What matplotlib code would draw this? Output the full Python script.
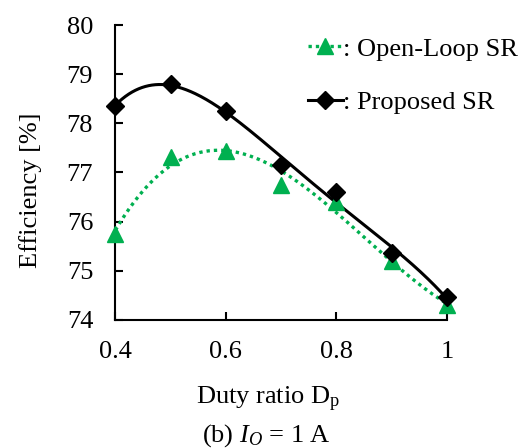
import numpy as np
import matplotlib
matplotlib.use("Agg")
import matplotlib.pyplot as plt
from matplotlib.lines import Line2D

plt.rcParams["font.family"] = ["Liberation Serif", "DejaVu Serif"]
plt.rcParams["mathtext.fontset"] = "custom"
plt.rcParams["mathtext.rm"] = "Liberation Serif"
plt.rcParams["mathtext.it"] = "Liberation Serif:italic"

# Duty ratio and measured efficiency [%]
duty = [0.4, 0.5, 0.6, 0.7, 0.8, 0.9, 1.0]
eff_open_loop = [75.75, 77.32, 77.44, 76.74, 76.40, 75.19, 74.30]
eff_proposed = [78.36, 78.80, 78.25, 77.16, 76.60, 75.36, 74.46]

x_ticks = [0.4, 0.6, 0.8, 1.0]
x_tick_labels = ["0.4", "0.6", "0.8", "1"]
y_ticks = [74, 75, 76, 77, 78, 79, 80]

GREEN = "#00B050"
FS = 19

fig = plt.figure(figsize=(5.27, 4.48), dpi=100)
ax = fig.add_axes([0.219, 0.286, 0.629, 0.658])

# polynomial trend lines through each series
xs = np.linspace(0.4, 1.0, 300)
p_open = np.polyfit(duty, eff_open_loop, 3)
p_prop = np.polyfit(duty, eff_proposed, 4)
ax.plot(xs, np.polyval(p_open, xs), color=GREEN, lw=2.4,
        linestyle=(0, (1, 1.2)), clip_on=False, zorder=2)
ax.plot(xs, np.polyval(p_prop, xs), color="black", lw=2.2,
        clip_on=False, zorder=2)

ax.plot(duty, eff_open_loop, linestyle="none", marker="^", ms=12,
        color=GREEN, mec=GREEN, clip_on=False, zorder=3)
ax.plot(duty, eff_proposed, linestyle="none", marker="D", ms=9.5,
        color="black", mec="black", clip_on=False, zorder=4)

ax.set_xlim(0.4, 1.0)
ax.set_ylim(74, 80)
ax.set_xticks(x_ticks)
ax.set_xticklabels(x_tick_labels)
ax.set_yticks(y_ticks)
for s in ("top", "right"):
    ax.spines[s].set_visible(False)
for s in ("left", "bottom"):
    ax.spines[s].set_linewidth(1.5)
ax.tick_params(direction="in", length=6, width=1.5, labelsize=FS)
ax.tick_params(axis="y", pad=16)
ax.tick_params(axis="x", pad=15)

ax.set_ylabel("Efficiency [%]", fontsize=FS)
ax.set_xlabel(r"Duty ratio D$_{\mathrm{p}}$", fontsize=FS)
ax.yaxis.set_label_coords(-0.22, 0.44)
ax.xaxis.set_label_coords(0.461, -0.222)
fig.text(0.505, 0.028, r"(b) $I_O$ = 1 A", fontsize=FS, ha="center", va="center")

handles = [
    Line2D([], [], color=GREEN, lw=2.4, linestyle=(0, (1, 1.2)),
           marker="^", ms=12, mec=GREEN),
    Line2D([], [], color="black", lw=2.2, marker="D", ms=9.5),
]
ax.legend(handles, [": Open-Loop SR", ": Proposed SR"], loc="upper left",
          bbox_to_anchor=(0.55, 0.995), frameon=False, fontsize=FS,
          handlelength=1.3, handletextpad=0.0, labelspacing=1.15,
          borderaxespad=0)

fig.savefig("out.png", dpi=100)
